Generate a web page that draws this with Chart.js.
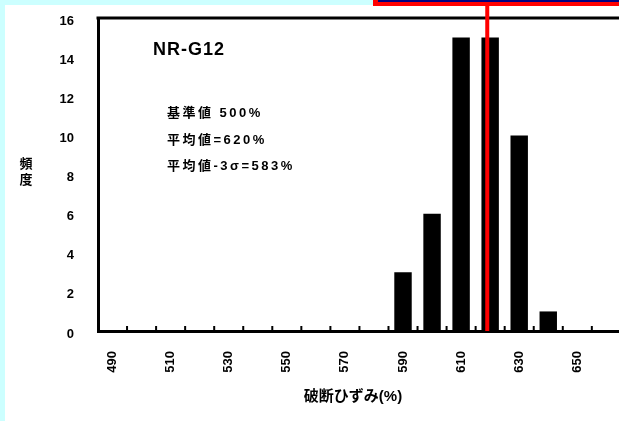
<!DOCTYPE html>
<html><head><meta charset="utf-8">
<script src="https://cdn.jsdelivr.net/npm/chart.js@4.4.0/dist/chart.umd.min.js"></script>
<style>
html,body{margin:0;padding:0;background:#fff;width:619px;height:421px;overflow:hidden;position:relative;}
#cyanL{position:absolute;left:0;top:0;width:5px;height:421px;background:#ccffff;}
#cyanT{position:absolute;left:0;top:0;width:619px;height:5px;background:#ccffff;}
#redBox{position:absolute;left:373px;top:0;width:260px;height:6px;background:#ff0000;}
#navy{position:absolute;left:378px;top:0;width:260px;height:2px;background:#000080;}
canvas{position:absolute;left:0;top:0;}
</style></head>
<body>
<div id="cyanL"></div><div id="cyanT"></div>
<canvas id="c" width="653" height="421"></canvas>
<div id="redBox"></div><div id="navy"></div>
<script>
// ---- data ----
const categories = ['490','500','510','520','530','540','550','560','570','580','590','600','610','620','630','640','650','660','670'];
const counts     = [0,0,0,0,0,0,0,0,0,0,3,6,15,15,10,1,0,0,0];
const tickLabels = ['490','510','530','550','570','590','610','630','650','670'];
const yMin = 0, yMax = 16, yStep = 2;
const meanLine = 619;
const seriesTitle = 'NR-G12';
const notes = ['基準値 500%', '平均値=620%', '平均値-3σ=583%'];
const xTitle = '破断ひずみ(%)';
const yTitle = ['頻', '度'];

const FONT = "'Liberation Sans', 'Noto Sans CJK JP', sans-serif";

const deco = {
  id: 'deco',
  afterDatasetsDraw(chart) {
    const {ctx, chartArea: a, scales: {x}} = chart;
    ctx.save();
    ctx.fillStyle = '#000';
    // top frame line
    ctx.fillRect(a.left - 1.5, a.top - 1.5, a.right - a.left + 3, 3);
    // inner ticks at category boundaries
    for (let i = 1; i < categories.length; i++) {
      const px = (x.getPixelForValue(i - 1) + x.getPixelForValue(i)) / 2;
      ctx.fillRect(px - 1, a.bottom - 5, 2, 5);
    }
    // red mean line
    const step = Number(categories[1]) - Number(categories[0]);
    const rx = x.getPixelForValue((meanLine - Number(categories[0])) / step);
    ctx.fillStyle = '#ff0000';
    ctx.fillRect(rx - 2, 0, 4, a.bottom);
    // annotations
    ctx.fillStyle = '#000';
    ctx.textBaseline = 'middle';
    ctx.textAlign = 'left';
    ctx.font = 'bold 18px ' + FONT;
    ctx.letterSpacing = '1px';
    ctx.fillText(seriesTitle, 153, 50);
    ctx.font = 'bold 13px ' + FONT;
    ctx.letterSpacing = '2.5px';
    const ys = [113, 140, 166];
    notes.forEach((t, i) => ctx.fillText(t, 167, ys[i]));
    // x title
    ctx.letterSpacing = '0px';
    ctx.textAlign = 'center';
    ctx.font = 'bold 15px ' + FONT;
    ctx.fillText(xTitle, 353, 397);
    // y title (vertical stacked)
    ctx.font = 'bold 13px ' + FONT;
    yTitle.forEach((ch, i) => ctx.fillText(ch, 26, 164 + i * 16));
    ctx.restore();
  }
};

new Chart(document.getElementById('c'), {
  type: 'bar',
  data: {
    labels: categories,
    datasets: [{
      data: counts,
      backgroundColor: '#000',
      borderWidth: 0,
      barPercentage: 0.6,
      categoryPercentage: 1.0
    }]
  },
  options: {
    responsive: false,
    animation: false,
    devicePixelRatio: 1,
    layout: {padding: {top: 18, left: 0, right: 0, bottom: 0}},
    plugins: {legend: {display: false}, tooltip: {enabled: false}, title: {display: false}},
    scales: {
      x: {
        grid: {display: true, drawOnChartArea: false, drawTicks: true, tickLength: 18, color: 'rgba(0,0,0,0)'},
        border: {display: true, color: '#000', width: 3},
        ticks: {
          autoSkip: false, minRotation: 90, maxRotation: 90, padding: 2,
          color: '#000', font: {family: FONT, weight: 'bold', size: 13},
          callback: function(v, i) { const l = categories[i]; return tickLabels.includes(l) ? l : ''; }
        },
        afterFit(s) { s.height = 90; }
      },
      y: {
        min: yMin, max: yMax,
        grid: {display: true, drawOnChartArea: false, drawTicks: true, tickLength: 22, color: 'rgba(0,0,0,0)'},
        border: {display: true, color: '#000', width: 3},
        ticks: {
          stepSize: yStep, padding: 2, labelOffset: 3,
          color: '#000', font: {family: FONT, weight: 'bold', size: 13}
        },
        afterFit(s) { s.width = 98; }
      }
    }
  },
  plugins: [deco]
});
</script>
</body></html>
